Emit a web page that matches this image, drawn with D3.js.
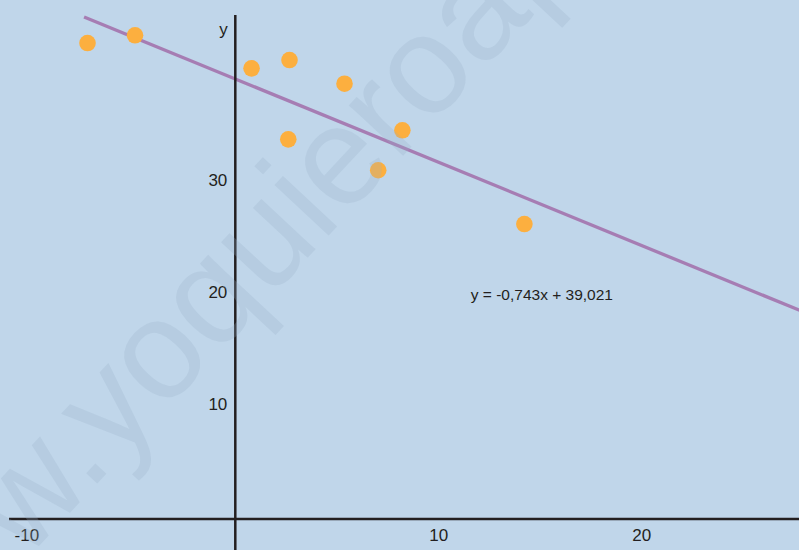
<!DOCTYPE html>
<html>
<head>
<meta charset="utf-8">
<script src="https://cdn.jsdelivr.net/npm/d3@7"></script>
<style>
html,body{margin:0;padding:0;background:#c0d6ea;}
svg{display:block;}
text{font-family:"Liberation Sans",Arial,sans-serif;fill:#231f20;}
</style>
</head>
<body>
<svg id="chart" width="799" height="550"></svg>
<script>
// Data
const pointsX = [-7.28, -4.94, 0.80, 2.67, 5.38, 2.61, 8.23, 7.04, 14.24];
const pointsY = [42.23, 42.92, 39.97, 40.71, 38.60, 33.63, 34.44, 30.87, 26.07];
const slope = -0.743;
const intercept = 39.021;
const lineDomain = [-7.45, 27.8];
const xTicks = [-10, 10, 20];
const yTicks = [10, 20, 30];
const equationLabel = "y = -0,743x + 39,021";
const equationPos = [11.6, 19.4];
const yAxisTitle = "y";
const watermark = "www.yoquieroaprobar.es";

const W = 799, H = 550;
const svg = d3.select("#chart");
svg.append("rect").attr("width", W).attr("height", H).attr("fill", "#c0d6ea");

const x = d3.scaleLinear().domain([-10, 20]).range([32.3, 641.3]);
const y = d3.scaleLinear().domain([0, 30]).range([516, 180]);

const axisColor = "#231f20";
const x0 = x(0), yAxisLine = y(0) + 3;

// regression line
const lineData = lineDomain.map(v => [v, slope * v + intercept]);
svg.append("path")
  .datum(lineData)
  .attr("d", d3.line().x(d => x(d[0])).y(d => y(d[1])))
  .attr("stroke", "#a67db3")
  .attr("stroke-width", 3.3)
  .attr("fill", "none");

// points
svg.append("g").selectAll("circle")
  .data(pointsX.map((v, i) => [v, pointsY[i]]))
  .join("circle")
  .attr("cx", d => x(d[0]))
  .attr("cy", d => y(d[1]))
  .attr("r", 8.3)
  .attr("fill", "#fcaf3f");

// axes lines
svg.append("line").attr("x1", 9).attr("x2", W).attr("y1", yAxisLine).attr("y2", yAxisLine)
  .attr("stroke", axisColor).attr("stroke-width", 2.5);
svg.append("line").attr("x1", x0).attr("x2", x0).attr("y1", 15).attr("y2", H)
  .attr("stroke", axisColor).attr("stroke-width", 2.5);

// x axis tick labels
const gx = svg.append("g").attr("transform", `translate(0,${yAxisLine})`)
  .call(d3.axisBottom(x).tickValues(xTicks).tickSize(0).tickPadding(0).tickFormat(d => String(d)));
gx.select(".domain").remove();
gx.selectAll("text")
  .attr("y", 22).attr("dy", 0)
  .attr("dx", d => d < 0 ? -6 : 0)
  .style("font-size", "17px")
  .style("font-family", "'Liberation Sans', Arial, sans-serif")
  .attr("fill", axisColor);

// y axis tick labels
const gy = svg.append("g").attr("transform", `translate(${x0},0)`)
  .call(d3.axisLeft(y).tickValues(yTicks).tickSize(0).tickPadding(8).tickFormat(d => String(d)));
gy.select(".domain").remove();
gy.selectAll("text")
  .attr("dy", "0.35em")
  .style("font-size", "17px")
  .style("font-family", "'Liberation Sans', Arial, sans-serif")
  .attr("fill", axisColor);

// y title
svg.append("text").attr("x", x0 - 7.5).attr("y", 35).attr("text-anchor", "end")
  .style("font-size", "17px").text(yAxisTitle);

// equation
svg.append("text").attr("x", x(equationPos[0])).attr("y", 300)
  .style("font-size", "15.5px").text(equationLabel);

// watermark
svg.append("text")
  .attr("transform", "translate(-113,709) rotate(-47)")
  .style("font-size", "140px")
  .style("font-family", "'Liberation Sans', Arial, sans-serif")
  .style("fill", "rgb(150,175,200)")
  .style("fill-opacity", 0.25)
  .text(watermark);
</script>
</body>
</html>
